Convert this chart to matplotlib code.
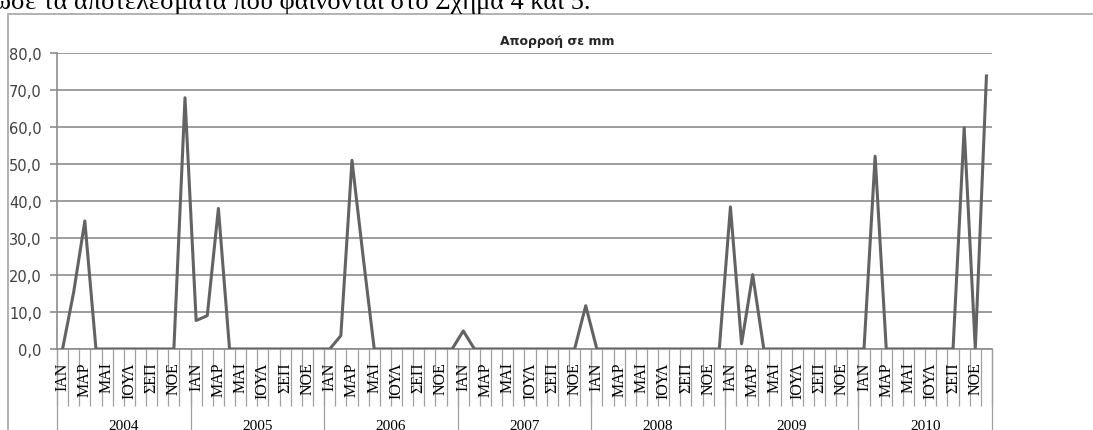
import matplotlib.pyplot as plt
from matplotlib.patches import Rectangle
from matplotlib.lines import Line2D
import matplotlib.transforms as mtransforms

years = ["2004", "2005", "2006", "2007", "2008", "2009", "2010"]
month_labels = ["ΙΑΝ", "", "ΜΑΡ", "", "ΜΑΙ", "", "ΙΟΥΛ", "", "ΣΕΠ", "", "ΝΟΕ", ""]

runoff_2004 = [0.0, 15.4, 34.6, 0.0, 0.0, 0.0, 0.0, 0.0, 0.0, 0.0, 0.0, 67.9]
runoff_2005 = [7.7, 9.0, 38.0, 0.0, 0.0, 0.0, 0.0, 0.0, 0.0, 0.0, 0.0, 0.0]
runoff_2006 = [0.0, 3.6, 51.0, 25.0, 0.0, 0.0, 0.0, 0.0, 0.0, 0.0, 0.0, 0.0]
runoff_2007 = [4.9, 0.0, 0.0, 0.0, 0.0, 0.0, 0.0, 0.0, 0.0, 0.0, 0.0, 11.7]
runoff_2008 = [0.0, 0.0, 0.0, 0.0, 0.0, 0.0, 0.0, 0.0, 0.0, 0.0, 0.0, 0.0]
runoff_2009 = [38.4, 1.4, 20.1, 0.0, 0.0, 0.0, 0.0, 0.0, 0.0, 0.0, 0.0, 0.0]
runoff_2010 = [0.0, 52.1, 0.0, 0.0, 0.0, 0.0, 0.0, 0.0, 0.0, 59.8, 0.0, 73.8]

runoff = (runoff_2004 + runoff_2005 + runoff_2006 + runoff_2007
          + runoff_2008 + runoff_2009 + runoff_2010)

W, H = 1093, 431
fig = plt.figure(figsize=(W / 100, H / 100), dpi=100)

# chart frame (cut by the page on right and bottom)
fig.patches.append(Rectangle((8 / W, -0.1), 1.2, (H - 15) / H + 0.1,
                             transform=fig.transFigure, fill=False,
                             edgecolor="#a6a6a6", linewidth=1.2))

# line of document text above the chart (cut by the page top)
fig.text(-30 / W, 1 - 9 / H, "έδωσε τα αποτελέσματα που φαίνονται στο Σχήμα 4 και 5.",
         family="Liberation Serif", fontsize=19, va="baseline", ha="left")

ax = fig.add_axes([57 / W, 81 / H, 935 / W, 296 / H])
n = len(runoff)
x = list(range(n))
ax.plot(x, runoff, color="#636363", linewidth=2.2, zorder=3)

ax.set_xlim(-0.5, n - 0.5)
ax.set_ylim(0, 80)
ax.set_yticks(range(0, 81, 10))
ax.set_yticklabels([f"{v:.1f}".replace(".", ",") for v in range(0, 81, 10)],
                   family="DejaVu Sans", fontsize=10.5, color="#404040")
ax.yaxis.grid(True, color="#8c8c8c", linewidth=1.2)
ax.set_axisbelow(True)
ax.tick_params(axis="y", length=5, color="#8c8c8c", width=1.2, pad=6)

for s in ["top", "right"]:
    ax.spines[s].set_visible(False)
ax.spines["left"].set_color("#8c8c8c")
ax.spines["left"].set_linewidth(1.2)
ax.spines["bottom"].set_color("#8c8c8c")
ax.spines["bottom"].set_linewidth(1.2)

# category boundary ticks
ax.set_xticks([k - 0.5 for k in range(n + 1)])
ax.set_xticklabels([])
ax.tick_params(axis="x", length=41, color="#a0a0a0", width=0.9, direction="out")

trans = mtransforms.blended_transform_factory(ax.transData, ax.transAxes)
# year separators, running to the bottom of the picture
for k in range(0, n + 1, 12):
    ax.add_line(Line2D([k - 0.5, k - 0.5], [0, -0.35], transform=trans,
                       color="#a0a0a0", linewidth=0.9, clip_on=False))

for i in range(n):
    lab = month_labels[i % 12]
    if lab:
        ax.annotate(lab, (i, 0), xycoords=trans, xytext=(0, -9),
                    textcoords="offset points", rotation=90, ha="center",
                    va="top", family="Liberation Serif", fontsize=11.5)

for j, yr in enumerate(years):
    ax.annotate(yr, (j * 12 + 5.5, 0), xycoords=trans, xytext=(0, -55),
                textcoords="offset points", ha="center", va="center",
                family="Liberation Serif", fontsize=11)

fig.text(557 / W, 1 - 41 / H, "Απορροή σε mm", ha="center", va="center",
         family="DejaVu Sans", fontsize=9, fontweight="bold", color="#262626")

fig.savefig("out.png", dpi=100)
